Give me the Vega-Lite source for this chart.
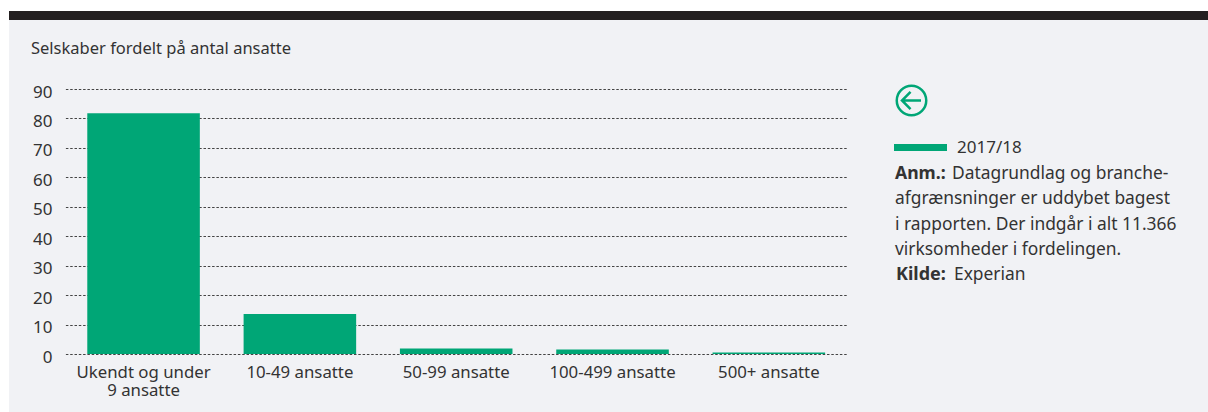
{
"$schema":"https://vega.github.io/schema/vega-lite/v6.json",
"width":782,"height":265,
"autosize":{"type":"none"},
"padding":{"left":65,"top":89,"right":361,"bottom":58},
"background":"#f1f2f5",
"config":{"font":"Noto Sans","view":{"stroke":null}},
"title":{"text":"Selskaber fordelt på antal ansatte","anchor":"start","frame":"group","dx":-34,"offset":-57.5,"fontSize":16.5,"fontWeight":"normal","color":"#333333","font":"Noto Sans"},
"data":{"values":[
{"kategori":"Ukendt og under 9 ansatte","andel":81.8,"periode":"2017/18"},
{"kategori":"10-49 ansatte","andel":13.6,"periode":"2017/18"},
{"kategori":"50-99 ansatte","andel":1.9,"periode":"2017/18"},
{"kategori":"100-499 ansatte","andel":1.5,"periode":"2017/18"},
{"kategori":"500+ ansatte","andel":0.5,"periode":"2017/18"}
]},
"layer":[
{"data":{"values":[{}]},"mark":{"type":"rect","color":"#ffffff","clip":false},"encoding":{"x":{"value":-65},"x2":{"value":1143},"y":{"value":-89},"y2":{"value":-78}}},
{"data":{"values":[{}]},"mark":{"type":"rect","color":"#ffffff","clip":false},"encoding":{"x":{"value":-65},"x2":{"value":-56},"y":{"value":-89},"y2":{"value":323}}},
{"data":{"values":[{}]},"mark":{"type":"rect","color":"#231f20","clip":false},"encoding":{"x":{"value":-56},"x2":{"value":1143},"y":{"value":-78},"y2":{"value":-69}}},
{"mark":{"type":"bar","clip":false},
"encoding":{
"x":{"field":"kategori","type":"nominal","sort":null,"title":null,"scale":{"paddingInner":0.28,"paddingOuter":0.14,"range":[0.4,782]},
"axis":{"domain":false,"ticks":false,"labelAngle":0,"labelFontSize":16.8,"labelColor":"#333333","labelPadding":23.5,"labelLineHeight":18,"labelBaseline":"alphabetic","labelLimit":0,
"labelExpr":"datum.label == 'Ukendt og under 9 ansatte' ? ['Ukendt og under','9 ansatte'] : datum.label"}},
"y":{"field":"andel","type":"quantitative","title":null,"scale":{"domain":[0,90],"nice":false},
"axis":{"values":[0,10,20,30,40,50,60,70,80,90],"domain":false,"ticks":false,"grid":true,"gridColor":"#444444","gridDash":[2.5,1.8],"gridWidth":1,"gridOpacity":1,"labelFontSize":17,"labelColor":"#333333","labelPadding":13,"labelOffset":3}},
"color":{"field":"periode","type":"nominal","scale":{"domain":["2017/18"],"range":["#00a676"]},
"legend":{"title":null,"orient":"none","legendX":828,"legendY":31,"symbolType":"M-1,-0.13H1V0.13H-1Z","symbolSize":2809,"symbolOpacity":1,"labelFontSize":17,"labelColor":"#333333","labelOffset":9}}
}},
{"data":{"values":[{}]},"mark":{"type":"point","shape":"circle","filled":false,"stroke":"#00a676","strokeWidth":2.5,"size":870,"opacity":1,"x":846.5,"y":11.5}},
{"data":{"values":[{}]},"mark":{"type":"point","shape":"M1,0H-1M-0.1,-0.9L-1,0L-0.1,0.9","filled":false,"stroke":"#00a676","strokeWidth":2.5,"size":361,"opacity":1,"x":846.5,"y":11.5}},
{"data":{"values":[{"t":"Anm.:"}]},"mark":{"type":"text","align":"left","baseline":"alphabetic","fontSize":17.6,"fontWeight":"bold","color":"#333333","x":830,"y":90},"encoding":{"text":{"field":"t"}}},
{"data":{"values":[{"t":"Datagrundlag og branche-"}]},"mark":{"type":"text","align":"left","baseline":"alphabetic","fontSize":17.4,"color":"#333333","x":887,"y":90},"encoding":{"text":{"field":"t"}}},
{"data":{"values":[{"t":"afgrænsninger er uddybet bagest"}]},"mark":{"type":"text","align":"left","baseline":"alphabetic","fontSize":17.4,"color":"#333333","x":830,"y":115},"encoding":{"text":{"field":"t"}}},
{"data":{"values":[{"t":"i rapporten. Der indgår i alt 11.366"}]},"mark":{"type":"text","align":"left","baseline":"alphabetic","fontSize":17.4,"color":"#333333","x":830,"y":141},"encoding":{"text":{"field":"t"}}},
{"data":{"values":[{"t":"virksomheder i fordelingen."}]},"mark":{"type":"text","align":"left","baseline":"alphabetic","fontSize":17.4,"color":"#333333","x":830,"y":166},"encoding":{"text":{"field":"t"}}},
{"data":{"values":[{"t":"Kilde:"}]},"mark":{"type":"text","align":"left","baseline":"alphabetic","fontSize":18,"fontWeight":"bold","color":"#333333","x":831,"y":191},"encoding":{"text":{"field":"t"}}},
{"data":{"values":[{"t":"Experian"}]},"mark":{"type":"text","align":"left","baseline":"alphabetic","fontSize":17.4,"color":"#333333","x":889,"y":191},"encoding":{"text":{"field":"t"}}}
]
}
